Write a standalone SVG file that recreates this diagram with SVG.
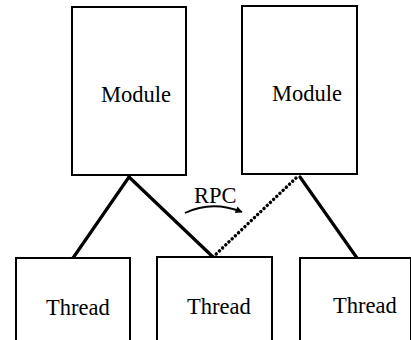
<svg xmlns="http://www.w3.org/2000/svg" width="411" height="340" viewBox="0 0 411 340">
  <defs>
    <style>
      .box { fill: #fff; stroke: #000; stroke-width: 2; }
      .label { font-family: "Liberation Serif", "Times New Roman", serif; font-size: 22.5px; fill: #000; }
      .link { stroke: #000; stroke-width: 3.2; fill: none; stroke-linecap: round; }
      .dotted { stroke: #000; stroke-width: 3.4; fill: none; stroke-linecap: round; stroke-dasharray: 0.1 4.3; }
      .call { stroke: #000; stroke-width: 1.8; fill: none; }
    </style>
    <marker id="arrow" viewBox="0 0 10 10" refX="9" refY="5" markerWidth="10" markerHeight="7" markerUnits="userSpaceOnUse" orient="auto">
      <path d="M0,0 L10,5 L0,10 Z" fill="#000"/>
    </marker>
  </defs>
  <rect width="411" height="340" fill="#fff"/>

  <g id="connectors">
    <line class="link" x1="129" y1="177" x2="73" y2="258"/>
    <line class="link" x1="129" y1="177" x2="213" y2="257"/>
    <line class="dotted" x1="213" y1="257" x2="296" y2="178"/>
    <line class="link" x1="300" y1="177" x2="357" y2="258"/>
  </g>

  <g id="module-left">
    <rect class="box" x="72" y="7" width="114" height="168"/>
    <text class="label" x="101" y="102">Module</text>
  </g>
  <g id="module-right">
    <rect class="box" x="242" y="6" width="115" height="168"/>
    <text class="label" x="272" y="101">Module</text>
  </g>

  <g id="thread-left">
    <rect class="box" x="16" y="258" width="114" height="100"/>
    <text class="label" x="46" y="315">Thread</text>
  </g>
  <g id="thread-middle">
    <rect class="box" x="157" y="257" width="115" height="100"/>
    <text class="label" x="187" y="314">Thread</text>
  </g>
  <g id="thread-right">
    <rect class="box" x="300" y="258" width="111" height="100"/>
    <text class="label" x="333" y="313">Thread</text>
  </g>

  <g id="rpc">
    <text class="label" x="194" y="203" font-size="21.5">RPC</text>
    <path class="call" d="M185,213 Q212,200 242,212" marker-end="url(#arrow)"/>
  </g>
</svg>
